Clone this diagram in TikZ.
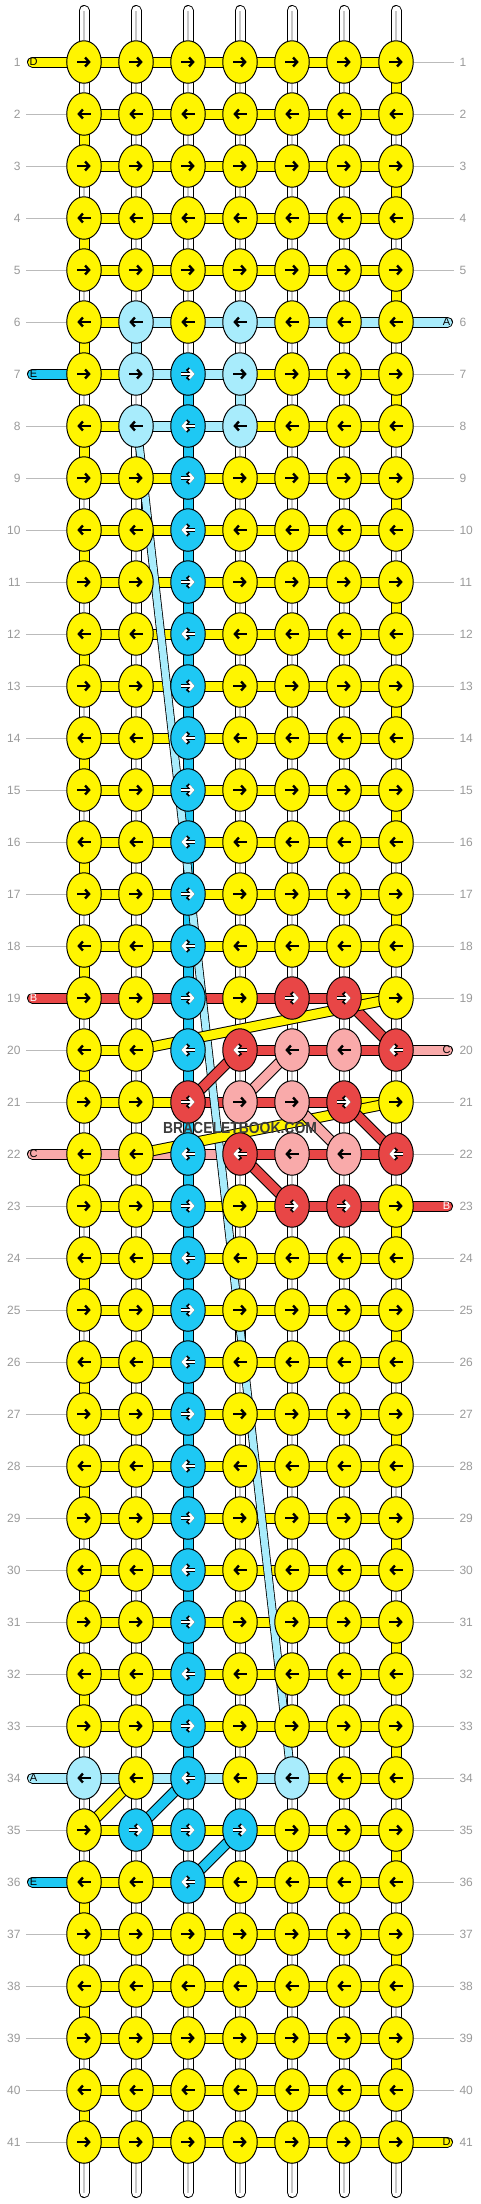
\documentclass[tikz,border=0pt]{standalone}
\usepackage{fontspec}
\setmainfont{Liberation Sans}
\usetikzlibrary{shapes.geometric, arrows.meta, calc}
\definecolor{kY}{HTML}{FFF500}
\definecolor{kL}{HTML}{A8ECFC}
\definecolor{kB}{HTML}{1EC8F4}
\definecolor{kR}{HTML}{E84646}
\definecolor{kP}{HTML}{F9AAAA}
\definecolor{guidegray}{HTML}{BBBBBB}
\definecolor{numgray}{HTML}{999999}
\definecolor{wmgray}{HTML}{3C3C3C}
\pgfdeclarelayer{strings}
\pgfdeclarelayer{diags}
\pgfsetlayers{strings,diags,main}
\tikzset{
    knot/.style={
        ellipse,
        draw=black,
        line width=1pt,
        minimum width=34.5pt,
        minimum height=42.5pt,
        inner sep=0pt,
    },
    thread/.style={draw=black, line width=1pt, double=#1, double distance=9pt},
    fine/.style={draw=black, line width=0.8pt, double=kL, double distance=7pt},
    blank/.style={draw=black, line width=1pt, double=white, double distance=9pt},
    blankmid/.style={draw=black!22, line width=2pt},
    guide/.style={draw=guidegray, line width=1pt},
    rownum/.style={text=numgray, font=\fontsize{12}{14}\selectfont, inner sep=0pt},
    endlbl/.style={font=\fontsize{11}{13}\selectfont, inner sep=0pt},
    arrow/.style={draw=#1, line width=2.4pt, -{Straight Barb[length=4pt,width=9pt]}},
    arrY/.style={arrow=black},
    arrL/.style={arrow=black},
    arrP/.style={arrow=black},
    arrB/.style={arrow=white, preaction={draw=black, line width=3.8pt, -{Straight Barb[length=4.8pt,width=10.6pt]}}},
    arrR/.style={arrow=white, preaction={draw=black, line width=3.8pt, -{Straight Barb[length=4.8pt,width=10.6pt]}}},
}
\def\Wmark{W}
\def\Nmark{N}
% knot colours that are not yellow
\foreach \r/\c/\kk in {6/2/L, 6/4/L, 7/2/L, 7/4/L, 8/2/L, 8/4/L,
    19/5/R, 19/6/R, 20/4/R, 20/5/P, 20/6/P, 20/7/R,
    21/4/P, 21/5/P, 21/6/R, 22/4/R, 22/5/P, 22/6/P, 22/7/R,
    23/5/R, 23/6/R, 34/1/L, 34/5/L, 35/2/B, 35/4/B}
    {\expandafter\xdef\csname kc@\r-\c\endcsname{\kk}}
\foreach \r in {7,...,36}{\expandafter\xdef\csname kc@\r-3\endcsname{B}}
\expandafter\xdef\csname kc@21-3\endcsname{R}
% horizontal threads between column c and c+1
\foreach \r/\c/\kk in {6/2/L, 6/3/L, 6/4/L, 6/5/L, 6/6/L, 7/2/L, 7/3/L, 8/2/L, 8/3/L,
    19/1/R, 19/2/R, 19/3/R, 19/4/R, 19/5/R, 20/2/N, 20/3/N, 20/4/R, 20/5/R, 20/6/R,
    21/3/R, 21/4/R, 21/5/R, 22/1/P, 22/2/P, 22/3/P, 22/4/R, 22/5/R, 22/6/R,
    23/5/R, 23/6/R, 34/1/L, 34/2/L, 34/3/L, 34/4/L}
    {\expandafter\xdef\csname hc@\r-\c\endcsname{\kk}}
% vertical threads between row r and r+1
\foreach \r/\c/\kk in {6/2/L, 7/4/L, 19/7/W, 21/7/W, 34/1/W}
    {\expandafter\xdef\csname vc@\r-\c\endcsname{\kk}}
\foreach \r in {7,...,33}{\expandafter\xdef\csname vc@\r-3\endcsname{B}}
% rows whose side has a loose thread instead of a guide line
\foreach \r in {1, 7, 19, 22, 34, 36}{\expandafter\xdef\csname el@\r\endcsname{1}}
\foreach \r in {6, 20, 23, 41}{\expandafter\xdef\csname er@\r\endcsname{1}}
\begin{document}
\begin{tikzpicture}[x=1pt, y=-1pt]
\useasboundingbox (0,0) rectangle (480,2204);
% knots
\foreach \r in {1,...,41}{
    \foreach \c in {1,...,7}{
        \def\kcol{Y}%
        \ifcsname kc@\r-\c\endcsname \edef\kcol{\csname kc@\r-\c\endcsname}\fi
        \node[knot, fill=k\kcol] (k-\r-\c) at ({84+52*(\c-1)}, {62+52*(\r-1)}) {};
        \ifodd\r\relax \def\dir{1}\else \def\dir{-1}\fi
        \draw[arr\kcol] ([xshift=-6.7*\dir]k-\r-\c.center) -- ([xshift=6.7*\dir]k-\r-\c.center);
    }
}
\begin{pgfonlayer}{strings}
    % base strings above and below
    \foreach \c in {1,...,7}{
        \coordinate (top-\c) at ({84+52*(\c-1)}, 10.5);
        \coordinate (bot-\c) at ({84+52*(\c-1)}, 2192.5);
        \draw[blank, line cap=round] (k-1-\c.center) -- (top-\c);
        \draw[blankmid] (k-1-\c.north) -- (top-\c);
        \draw[blank, line cap=round] (k-41-\c.center) -- (bot-\c);
        \draw[blankmid] (k-41-\c.south) -- (bot-\c);
    }
    % vertical pieces
    \foreach \r [evaluate=\r as \s using int(\r+1)] in {1,...,40}{
        \foreach \c in {1,...,7}{
            \def\vcol{W}%
            \ifodd\r\relax \ifnum\c=7 \def\vcol{Y}\fi \else \ifnum\c=1 \def\vcol{Y}\fi \fi
            \ifcsname vc@\r-\c\endcsname \edef\vcol{\csname vc@\r-\c\endcsname}\fi
            \ifx\vcol\Wmark
                \draw[blank] (k-\r-\c.center) -- (k-\s-\c.center);
                \draw[blankmid] (k-\r-\c.south) -- (k-\s-\c.north);
            \else
                \draw[thread=k\vcol] (k-\r-\c.center) -- (k-\s-\c.center);
            \fi
        }
    }
    % horizontal pieces
    \foreach \r in {1,...,41}{
        \foreach \c [evaluate=\c as \d using int(\c+1)] in {1,...,6}{
            \def\hcol{Y}%
            \ifcsname hc@\r-\c\endcsname \edef\hcol{\csname hc@\r-\c\endcsname}\fi
            \ifx\hcol\Nmark\else
                \draw[thread=k\hcol] (k-\r-\c.center) -- (k-\r-\d.center);
            \fi
        }
    }
    % guide lines and row numbers
    \foreach \r in {1,...,41}{
        \coordinate (gl-\r) at (26, {62+52*(\r-1)});
        \coordinate (gr-\r) at (454, {62+52*(\r-1)});
        \ifcsname el@\r\endcsname\else \draw[guide] (gl-\r) -- (k-\r-1.west);\fi
        \ifcsname er@\r\endcsname\else \draw[guide] (k-\r-7.east) -- (gr-\r);\fi
        \node[rownum, anchor=east] (nl-\r) at (20.7, {62+52*(\r-1)}) {\r};
        \node[rownum, anchor=west] (nr-\r) at (459.3, {62+52*(\r-1)}) {\r};
    }
    % loose ends on the left
    \foreach \r/\lt/\lc/\lf in {1/D/Y/black, 7/E/B/black, 19/B/R/white, 22/C/P/black, 34/A/L/black, 36/E/B/black}{
        \coordinate (el-\r) at (32.5, {62+52*(\r-1)});
        \draw[thread=k\lc, line cap=round] (k-\r-1.center) -- (el-\r);
        \node[endlbl, text=\lf] at ([xshift=1pt]el-\r) {\lt};
    }
    % loose ends on the right
    \foreach \r/\lt/\lc/\lf in {6/A/L/black, 20/C/P/black, 23/B/R/white, 41/D/Y/black}{
        \coordinate (er-\r) at (447.5, {62+52*(\r-1)});
        \draw[thread=k\lc, line cap=round] (k-\r-7.center) -- (er-\r);
        \node[endlbl, text=\lf] at ([xshift=-1pt]er-\r) {\lt};
    }
\end{pgfonlayer}
\begin{pgfonlayer}{diags}
    % long light blue thread
    \draw[fine] ([xshift=1.8pt, yshift=-6pt]k-8-2.center) -- ([xshift=-2pt, yshift=12pt]k-34-5.center);
    % red and pink motif
    \draw[thread=kR] (k-19-6.center) -- (k-20-7.center);
    \draw[thread=kY] (k-19-7.center) -- (k-20-2.center);
    \draw[thread=kR] (k-20-4.center) -- (k-21-3.center);
    \draw[thread=kP] (k-20-5.center) -- (k-21-4.center);
    \draw[thread=kY] (k-21-7.center) -- (k-22-2.center);
    \draw[thread=kP] (k-21-5.center) -- (k-22-6.center);
    \draw[thread=kR] (k-21-6.center) -- (k-22-7.center);
    \draw[thread=kR] (k-22-4.center) -- (k-23-5.center);
    % lower blue part
    \draw[thread=kY] (k-34-2.center) -- (k-35-1.center);
    \draw[thread=kB] (k-34-3.center) -- (k-35-2.center);
    \draw[thread=kB] (k-35-4.center) -- (k-36-3.center);
\end{pgfonlayer}
\node[font=\bfseries\fontsize{16}{18}\selectfont, text=wmgray, xscale=0.87] (wm) at (240, 1128) {BRACELETBOOK.COM};
\end{tikzpicture}
\end{document}
